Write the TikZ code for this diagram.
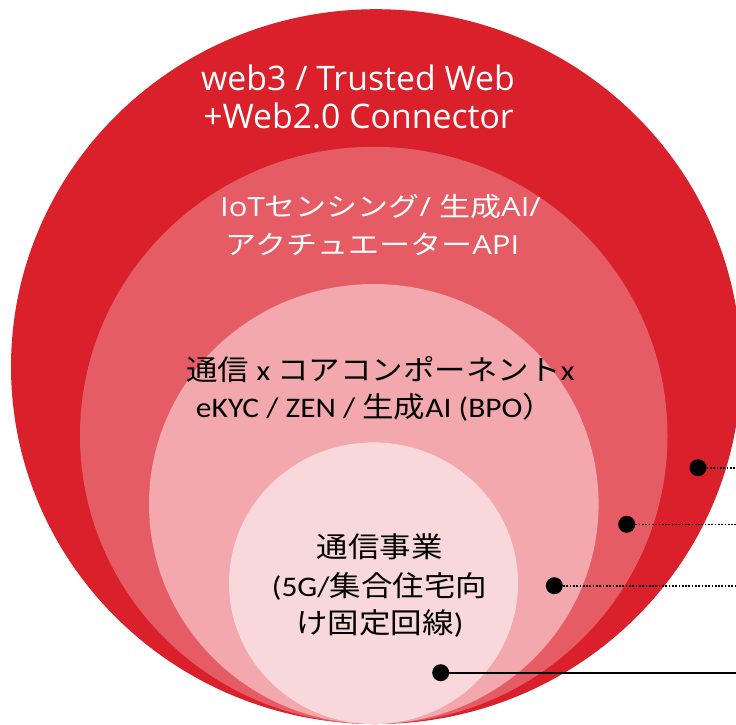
\documentclass[tikz,border=0pt]{standalone}
\usepackage{fontspec}
\setmainfont{Open Sans}
\newfontfamily\jp{Noto Sans CJK JP}
\newfontfamily\os{Open Sans}
\newfontfamily\cb{Carlito}
\definecolor{ringA}{RGB}{218,32,42}
\definecolor{ringB}{RGB}{230,92,101}
\definecolor{ringC}{RGB}{242,168,172}
\definecolor{ringD}{RGB}{249,216,219}
\begin{document}
\begin{tikzpicture}[x=1pt,y=-1pt,
  wlab/.style={text=white, inner sep=0pt, anchor=base},
  blab/.style={text=black, inner sep=0pt, anchor=base},
  pin/.style={circle, fill=black, inner sep=0pt, minimum size=17pt},
  dotline/.style={line width=1.6pt, dash pattern=on 1.7pt off 1.6pt},
  solidline/.style={line width=1.7pt}]
\useasboundingbox (0,0) rectangle (736,724);
\begin{scope}
\clip (0,0) rectangle (736,724);
\fill[ringA] (376,366.6) ellipse [x radius=365pt, y radius=357.4pt];
\fill[ringB] (373.75,435.4) ellipse [x radius=293.75pt, y radius=288.6pt];
\fill[ringC] (373.8,504) ellipse [x radius=224.8pt, y radius=220pt];
\fill[ringD] (373.5,583.2) ellipse [x radius=144.5pt, y radius=140.8pt];
\end{scope}
% outer ring text
\node[wlab, font=\os\fontsize{33.8}{40}\selectfont] (w1) at (358,90.5) {web3 / Trusted Web};
\node[wlab, font=\os\fontsize{33.8}{40}\selectfont] (w2) at (358.5,128.3) {+Web2.0 Connector};
% second ring text
\node[wlab, font=\fontsize{31}{36}\selectfont] (i1) at (380.5,216) {\scalebox{1}[0.85]{{\os IoT}{\jp センシング}{\os / }{\jp 生成}{\os AI/}}};
\node[wlab, font=\fontsize{31}{36}\selectfont] (i2) at (372.5,254.5) {\scalebox{1}[0.85]{{\jp アクチュエーター}{\os API}}};
% third ring text
\node[blab, font=\fontsize{31.5}{36}\selectfont] (c1) at (380.5,380) {\scalebox{1}[0.9]{{\jp 通信}{\cb\ x }{\jp コアコンポーネント}{\cb x}}};
\node[blab, font=\fontsize{31.5}{36}\selectfont] (c2) at (375,417) {\scalebox{1}[0.9]{{\cb eKYC / ZEN / }{\jp 生成}{\cb AI (BPO}{\jp ）}}};
% inner circle text
\node[blab, font=\fontsize{31.5}{36}\selectfont] (k1) at (379.5,557) {\scalebox{1}[0.9]{\jp 通信事業}};
\node[blab, font=\fontsize{31.5}{36}\selectfont] (k2) at (379.5,596) {\scalebox{1}[0.9]{{\cb (5G/}{\jp 集合住宅向}}};
\node[blab, font=\fontsize{31.5}{36}\selectfont] (k3) at (380,633.5) {\scalebox{1}[0.9]{{\jp け固定回線}{\cb )}}};
% pins and leader lines
\node[pin] (p1) at (698,467.7) {};
\node[pin] (p2) at (626.7,524.3) {};
\node[pin] (p3) at (554.3,585.7) {};
\node[pin] (p4) at (440.7,672.7) {};
\coordinate (e1) at (736,467.7);
\coordinate (e2) at (736,524.3);
\coordinate (e3) at (736,585.7);
\coordinate (e4) at (736,672.7);
\draw[dotline] (p1) -- (e1);
\draw[dotline] (p2) -- (e2);
\draw[dotline] (p3) -- (e3);
\draw[solidline] (p4) -- (e4);
\end{tikzpicture}
\end{document}
